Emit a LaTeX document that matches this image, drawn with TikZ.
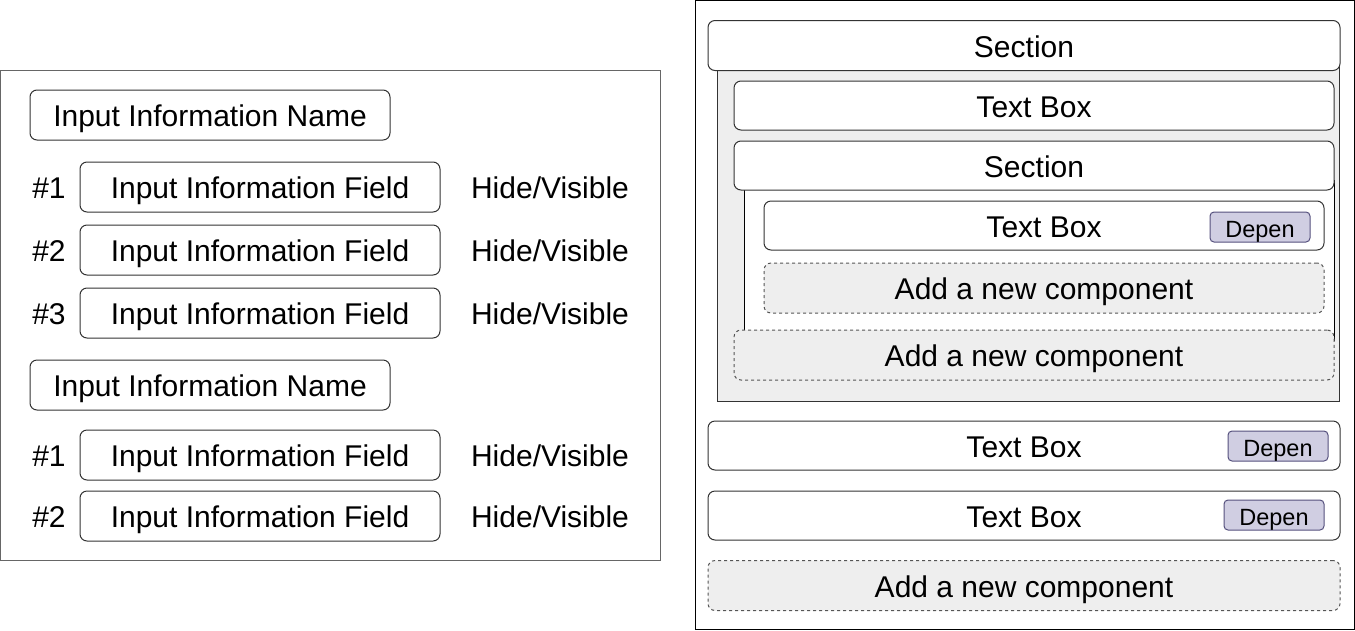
\documentclass[tikz,border=0pt]{standalone}
\usepackage{fontspec}
\setmainfont{Liberation Sans}
\usepackage{tikz}
\definecolor{panelgray}{HTML}{666666}
\definecolor{boxline}{HTML}{333333}
\definecolor{fillgray}{HTML}{EEEEEE}
\definecolor{dashline}{HTML}{555555}
\definecolor{depfill}{HTML}{D0CEE2}
\definecolor{depline}{HTML}{56517E}

\begin{document}
\begin{tikzpicture}[x=1pt,y=-1pt, line width=1pt,
	txt/.style={font=\fontsize{30}{32}\selectfont, text height=27pt, text depth=4pt, inner sep=0pt},
	field/.style={txt, draw=boxline, fill=white, rounded corners=7pt, minimum height=50},
	newcomp/.style={txt, draw=dashline, fill=fillgray, dash pattern=on 3pt off 3pt, rounded corners=7pt, minimum height=50},
	depen/.style={draw=depline, fill=depfill, rounded corners=4pt, font=\fontsize{23.5}{25}\selectfont, text height=21pt, text depth=0pt, inner sep=0pt, minimum width=100, minimum height=30}]
	\useasboundingbox (0,0) rectangle (1355,630);
	\draw[color=panelgray] (0.5,70) rectangle (660,560);
	\node[field, minimum width=360, at={(210,115)}] (name1) {Input Information Name};
	\node[txt, at={(49,187)}] (num11) {\#1};
	\node[txt, at={(49,250)}] (num12) {\#2};
	\node[txt, at={(49,313)}] (num13) {\#3};
	\node[field, minimum width=360, at={(260,187)}] (field11) {Input Information Field};
	\node[field, minimum width=360, at={(260,250)}] (field12) {Input Information Field};
	\node[field, minimum width=360, at={(260,313)}] (field13) {Input Information Field};
	\node[txt, at={(550,187)}] (vis11) {Hide/Visible};
	\node[txt, at={(550,250)}] (vis12) {Hide/Visible};
	\node[txt, at={(550,313)}] (vis13) {Hide/Visible};
	\node[field, minimum width=360, at={(210,385)}] (name2) {Input Information Name};
	\node[txt, at={(49,455)}] (num21) {\#1};
	\node[txt, at={(49,516)}] (num22) {\#2};
	\node[field, minimum width=360, at={(260,455)}] (field21) {Input Information Field};
	\node[field, minimum width=360, at={(260,516)}] (field22) {Input Information Field};
	\node[txt, at={(550,455)}] (vis21) {Hide/Visible};
	\node[txt, at={(550,516)}] (vis22) {Hide/Visible};

	\draw[color=black] (695,0.5) rectangle (1354,629.5);
	\draw[color=boxline, fill=fillgray] (717,60) rectangle (1339,401);
	\draw[color=black, fill=white] (744,180) rectangle (1334,340);
	\node[field, minimum width=632, at={(1024,45.5)}] (sec1) {Section};
	\node[field, minimum width=600, minimum height=49, at={(1034,105.5)}] (tbox1) {Text Box};
	\node[field, minimum width=600, minimum height=49, at={(1034,165.5)}] (sec2) {Section};
	\node[field, minimum width=560, minimum height=49, at={(1044,225.5)}] (tbox2) {Text Box};
	\node[depen, at={(1260,227)}] (dep2) {Depen};
	\node[newcomp, minimum width=560, at={(1044,288)}] (add2) {Add a new component};
	\node[newcomp, minimum width=600, at={(1034,355)}] (add1) {Add a new component};
	\node[field, minimum width=632, minimum height=49, at={(1024,445.5)}] (tbox3) {Text Box};
	\node[depen, at={(1278,446)}] (dep3) {Depen};
	\node[field, minimum width=632, minimum height=49, at={(1024,515.5)}] (tbox4) {Text Box};
	\node[depen, at={(1274,515)}] (dep4) {Depen};
	\node[newcomp, minimum width=632, at={(1024,585.5)}] (add3) {Add a new component};
\end{tikzpicture}
\end{document}
